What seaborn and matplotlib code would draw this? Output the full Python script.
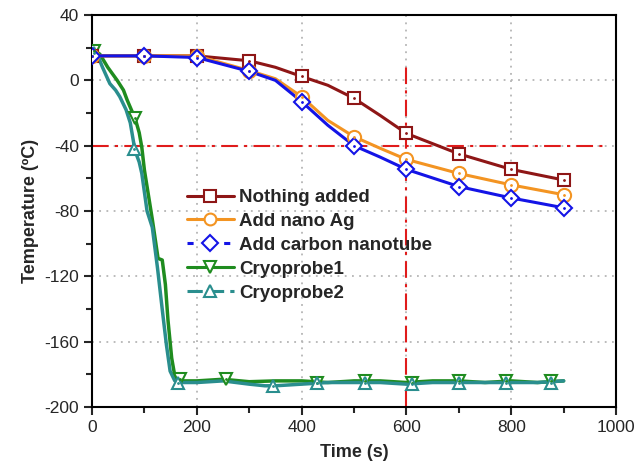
import numpy as np
import pandas as pd
import matplotlib
matplotlib.use("Agg")
import matplotlib.pyplot as plt
from matplotlib.lines import Line2D
import seaborn as sns

# ---------------- data ----------------
t_curve = [0, 100, 200, 300, 350, 400, 450, 500, 550, 600, 700, 800, 900]
nothing_added = [15, 15, 15, 12, 8, 2.4, -3, -11, -21.5, -32.5, -45, -54.5, -61]
nano_ag = [15, 15, 15, 6, 1, -10, -24.5, -34.5, -41.6, -48.4, -57, -64, -70]
carbon_nt = [15, 15, 14, 5.5, 0, -13, -27.5, -40, -47, -54.5, -65, -72, -78]

cryo1_t = [0, 6, 15, 30, 48, 60, 67, 75, 82, 90, 95, 100, 105, 115, 126, 134, 140,
           145, 152, 158, 168, 200, 250, 300, 350, 400, 450, 500, 550, 600, 650,
           700, 750, 800, 850, 900]
cryo1_T = [20, 18, 16, 8, 0, -6, -12, -18, -23, -32, -41, -55, -65, -85, -109, -110,
           -125, -147, -170, -181, -184, -184, -183, -184.5, -184, -184, -185, -184,
           -184, -185, -184, -184, -185, -184, -185, -184]
cryo2_t = [0, 6, 20, 34, 45, 53, 65, 73, 82, 90, 95, 105, 115, 125, 135, 142, 149,
           158, 165, 200, 250, 300, 330, 350, 400, 450, 500, 550, 600, 650, 700, 750,
           800, 850, 900]
cryo2_T = [18, 19, 8, -2, -6, -10, -18, -26, -43, -50, -57, -80, -90, -115, -143,
           -162, -178, -184, -185, -185, -184, -186, -187, -187, -186, -185, -185,
           -185, -186, -185, -185, -185, -185, -185, -184]

cryo1_mark_t = [3, 82, 168, 255, 430, 520, 610, 700, 790, 875]
cryo1_mark_T = [18, -23, -183, -183, -185, -184, -185, -184, -184, -184]
cryo2_mark_t = [3, 80, 165, 345, 430, 520, 610, 700, 790, 875]
cryo2_mark_T = [17, -42, -185, -187, -185, -185, -186, -185, -185, -185]

labels = ["Nothing added", "Add nano Ag", "Add carbon nanotube", "Cryoprobe1", "Cryoprobe2"]
x_ticks = [0, 200, 400, 600, 800, 1000]
y_ticks = [40, 0, -40, -80, -120, -160, -200]

# ---------------- style ----------------
sns.set_style("white")
plt.rcParams["font.family"] = ["Liberation Sans", "DejaVu Sans"]
plt.rcParams["axes.unicode_minus"] = False

c_red = "#8e1616"
c_orange = "#f39422"
c_blue = "#1414e6"
c_green = "#1f8c1f"
c_teal = "#2a8e8e"

fig = plt.figure(figsize=(6.36, 4.70), dpi=100)
ax = fig.add_axes([0.1447, 0.134, 0.8239, 0.834])

# grid & reference lines
ax.grid(True, which="major", color="#b5b5b5", linestyle=(0, (1, 3)), linewidth=1.3)
ax.axhline(-40, xmin=0, xmax=0.98, color="#e01b1b", lw=1.5, ls=(0, (8, 3, 1.5, 3)), zorder=1.5)
ax.axvline(600, ymin=0, ymax=(10 + 200) / 240, color="#e01b1b", lw=1.5, ls=(0, (8, 3, 1.5, 3)), zorder=1.5)

# cryoprobe curves
df1 = pd.DataFrame({"t": cryo1_t, "T": cryo1_T})
df2 = pd.DataFrame({"t": cryo2_t, "T": cryo2_T})
sns.lineplot(data=df1, x="t", y="T", ax=ax, color=c_green, lw=2.5, estimator=None, sort=False, zorder=3)
sns.lineplot(data=df2, x="t", y="T", ax=ax, color=c_teal, lw=2.5, estimator=None, sort=False, zorder=3)

mk = dict(markerfacecolor="white", markeredgewidth=1.5, markersize=9, linestyle="none", zorder=5)
ax.plot(cryo1_mark_t, cryo1_mark_T, marker="v", markeredgecolor=c_green, **mk)
ax.plot(cryo2_mark_t, cryo2_mark_T, marker="^", markeredgecolor=c_teal, **mk)
ax.plot(cryo1_mark_t, cryo1_mark_T, marker=".", color=c_green, ms=2, ls="none", zorder=6)
ax.plot(cryo2_mark_t, cryo2_mark_T, marker=".", color=c_teal, ms=2, ls="none", zorder=6)

# freezing curves with additives
series = [(nothing_added, c_red, "s", 8.5), (nano_ag, c_orange, "o", 9.5), (carbon_nt, c_blue, "D", 8.5)]
for vals, col, m, ms in series:
    df = pd.DataFrame({"t": t_curve, "T": vals})
    sns.lineplot(data=df, x="t", y="T", ax=ax, color=col, lw=2.2, estimator=None, zorder=4)
    dm = df[df["t"] % 100 == 0]
    ax.plot(dm["t"], dm["T"], marker=m, markeredgecolor=col, markerfacecolor="white",
            markeredgewidth=1.5, markersize=ms, ls="none", zorder=5)
    ax.plot(dm["t"], dm["T"], marker=".", color=col, ms=2, ls="none", zorder=6)

# axes
ax.set_xlim(0, 1000)
ax.set_ylim(-200, 40)
ax.set_xticks(x_ticks)
ax.set_yticks(y_ticks)
ax.set_xticks(np.arange(100, 1000, 200), minor=True)
ax.set_yticks(np.arange(-180, 40, 40), minor=True)
ax.tick_params(axis="both", which="major", direction="out", length=6, width=1.5,
               labelsize=12.5, bottom=True, left=True, top=False, right=False)
ax.tick_params(axis="both", which="minor", direction="out", length=4, width=1.5,
               bottom=True, left=True, top=False, right=False)
for s in ax.spines.values():
    s.set_linewidth(1.5)
    s.set_color("black")
ax.set_xlabel("Time (s)", fontsize=13, fontweight="bold", labelpad=6)
ax.set_ylabel("Temperature (ºC)", fontsize=13, fontweight="bold", labelpad=4)

# legend
def h(col, m, ls, mk_ms=8.5):
    return Line2D([0], [0], color=col, lw=2.2, ls=ls, marker=m, markerfacecolor="white",
                  markeredgecolor=col, markeredgewidth=1.5, markersize=mk_ms)

handles = [h(c_red, "s", "-"), h(c_orange, "o", "-"), h(c_blue, "D", (0, (2, 4))),
           h(c_green, "v", "-"), h(c_teal, "^", (0, (5, 2)))]
leg = ax.legend(handles, labels, loc="upper left", bbox_to_anchor=(0.163, 0.58),
                frameon=False, borderpad=0, handlelength=2.5, handletextpad=0.3,
                labelspacing=0.36, prop={"weight": "bold", "size": 13.5})

fig.savefig("out.png", dpi=100)
